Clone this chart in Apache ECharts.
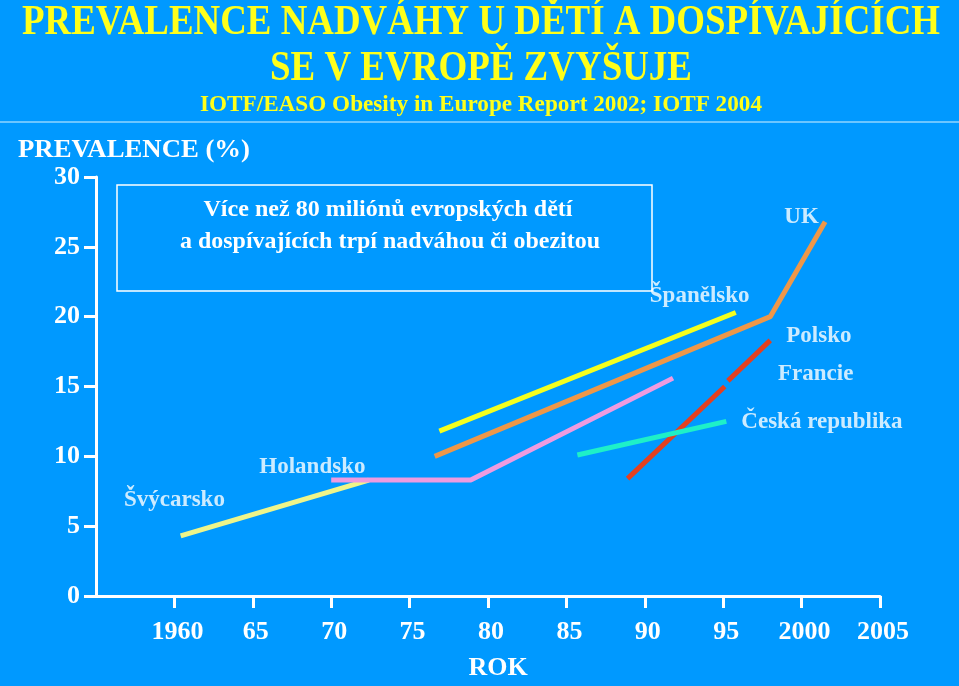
<!DOCTYPE html>
<html><head><meta charset="utf-8">
<script src="https://cdn.jsdelivr.net/npm/echarts@6/dist/echarts.min.js"></script>
<style>html,body{margin:0;padding:0;background:#0099ff}#c{width:959px;height:686px}</style>
</head><body><div id="c"></div>
<script>
// ---- data ----
const xTickValues = [1960, 1965, 1970, 1975, 1980, 1985, 1990, 1995, 2000, 2005];
const xTickLabels = ['1960', '65', '70', '75', '80', '85', '90', '95', '2000', '2005'];
const yTickValues = [0, 5, 10, 15, 20, 25, 30];

const switzerland = [[1960.4, 4.3], [1972.4, 8.3]];
const netherlands = [[1970.0, 8.3], [1978.9, 8.3], [1991.8, 15.6]];
const spain = [[1976.9, 11.8], [1995.8, 20.3]];
const uk = [[1976.6, 10.0], [1998.0, 20.0], [2001.5, 26.8]];
const france = [[1988.9, 8.4], [1995.1, 15.0]];
const poland = [[1995.3, 15.4], [1998.0, 18.3]];
const czech = [[1985.7, 10.1], [1995.2, 12.5]];

const countryNames = ['UK', 'Španělsko', 'Polsko', 'Francie', 'Česká republika', 'Holandsko', 'Švýcarsko'];
const countryLabelAnchors = [[2000.0, 27.1], [1993.5, 21.5], [2001.1, 18.6], [2000.9, 15.9], [2001.3, 12.45], [1968.8, 9.25], [1960.0, 6.85]];

const titleLine1 = 'PREVALENCE NADVÁHY U DĚTÍ A DOSPÍVAJÍCÍCH';
const titleLine2 = 'SE V EVROPĚ ZVYŠUJE';
const subtitle = 'IOTF/EASO Obesity in Europe Report 2002; IOTF 2004';
const yName = 'PREVALENCE (%)';
const xName = 'ROK';
const boxLine1 = 'Více než 80 miliónů evropských dětí';
const boxLine2 = 'a dospívajících trpí nadváhou či obezitou';

// ---- layout helpers ----
const FF = '"Liberation Serif", "Times New Roman", serif';
const mctx = document.createElement('canvas').getContext('2d');
function fit(text, font, target) { mctx.font = font; return target / mctx.measureText(text).width; }

function fitText(text, x, y, size, target, color, align) {
  const font = 'bold ' + size + 'px ' + FF;
  return {
    type: 'text', x: x, y: y, scaleX: fit(text, font, target), silent: true,
    style: { text: text, font: font, fill: color, align: align || 'center', verticalAlign: 'middle' }
  };
}

const chart = echarts.init(document.getElementById('c'));
const lineSeries = (name, data, color) => ({
  type: 'line', name: name, data: data, showSymbol: false, symbol: 'none', silent: true,
  lineStyle: { color: color, width: 5 }, z: 3
});

chart.setOption({
  backgroundColor: '#0099ff',
  animation: false,
  grid: { left: 96, right: 79, top: 177, bottom: 81, containLabel: false },
  xAxis: {
    type: 'value', min: 1955, max: 2005, interval: 5,
    axisLine: { show: true, lineStyle: { color: '#fff', width: 3 } },
    axisTick: { show: true, customValues: xTickValues, length: 12, lineStyle: { color: '#fff', width: 3 } },
    axisLabel: {
      customValues: xTickValues, color: '#fff', fontSize: 26, fontWeight: 'bold', fontFamily: FF, margin: 23,
      padding: [0, 0, 0, 6],
      formatter: v => { const i = xTickValues.indexOf(v); return i >= 0 ? xTickLabels[i] : ''; }
    },
    splitLine: { show: false },
    name: xName, nameLocation: 'middle', nameGap: 59,
    nameTextStyle: { color: '#fff', fontSize: 26, fontWeight: 'bold', fontFamily: FF, padding: [0, 0, 0, 20] }
  },
  yAxis: {
    type: 'value', min: 0, max: 30, interval: 5,
    axisLine: { show: true, lineStyle: { color: '#fff', width: 3 } },
    axisTick: { show: true, customValues: yTickValues, length: 12, lineStyle: { color: '#fff', width: 3 } },
    axisLabel: { customValues: yTickValues, color: '#fff', fontSize: 26, fontWeight: 'bold', fontFamily: FF, margin: 16, padding: [4, 0, 0, 0] },
    splitLine: { show: false }
  },
  series: [
    lineSeries('Švýcarsko', switzerland, '#eef58a'),
    lineSeries('Holandsko', netherlands, '#ee9be0'),
    lineSeries('Španělsko', spain, '#f5ff1e'),
    lineSeries('UK', uk, '#ee9748'),
    lineSeries('Francie', france, '#e4401f'),
    lineSeries('Polsko', poland, '#e4401f'),
    lineSeries('Česká republika', czech, '#1ef0c8'),
    {
      type: 'scatter', symbolSize: 0, silent: true, z: 4,
      data: countryNames.map((n, i) => ({ name: n, value: countryLabelAnchors[i] })),
      label: { show: true, position: 'inside', formatter: '{b}', color: '#fff', fontSize: 23, fontWeight: 'bold', fontFamily: FF }
    }
  ],
  graphic: [
    { type: 'line', silent: true, shape: { x1: 0, y1: 122, x2: 959, y2: 122 }, style: { stroke: '#6cc6ff', lineWidth: 2 } },
    fitText(titleLine1, 481, 23, 42, 918, '#ffff1a'),
    fitText(titleLine2, 481, 69, 42, 422, '#ffff1a'),
    fitText(subtitle, 481, 105, 23, 562, '#ffff1a'),
    fitText(yName, 18, 151, 25, 232, '#fff', 'left'),
    { type: 'rect', silent: true, shape: { x: 117, y: 185, width: 535, height: 106 },
      style: { fill: 'none', stroke: '#fff', lineWidth: 1.5 } },
    fitText(boxLine1, 388, 210, 23, 369, '#fff'),
    fitText(boxLine2, 390, 242, 23, 420, '#fff')
  ]
});
</script>
</body></html>
